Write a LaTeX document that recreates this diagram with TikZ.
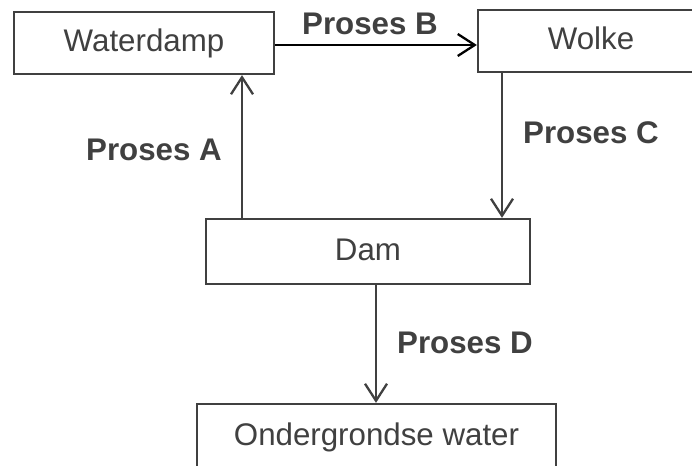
\documentclass[tikz,border=0pt]{standalone}
\usepackage{fontspec}
\setmainfont{Liberation Sans}
\usetikzlibrary{arrows.meta}
\definecolor{ink}{HTML}{404040}
\begin{document}
\begin{tikzpicture}[x=1bp,y=-1bp,
  box/.style={draw=ink, line width=2.3bp, fill=white, inner sep=0pt, text=ink,
    font=\fontsize{31.4}{36}\selectfont, text height=22bp, text depth=4bp},
  lbl/.style={inner sep=0pt, text=ink, font=\fontsize{31.4}{36}\selectfont\bfseries,
    text height=22bp, text depth=0pt},
  arr/.style={draw=ink, line width=2.3bp, -{Straight Barb[length=17bp, width=22bp, line width=2.3bp]}}]
\useasboundingbox (0,0) rectangle (692,466);
\clip (0,0) rectangle (692,466);
\fill[white] (0,0) rectangle (692,466);
\node[box, minimum width=260bp, minimum height=62bp] (wd) at (144,43) {Waterdamp};
\node[box, minimum width=226bp, minimum height=62bp] (wolke) at (591,41) {Wolke};
\node[box, minimum width=324bp, minimum height=65bp] (dam) at (368,251.5) {Dam};
\node[box, minimum width=359bp, minimum height=64bp] (ond) at (376.5,436) {Ondergrondse water};
\coordinate (xa) at (242,0);
\coordinate (yb) at (0,45);
\coordinate (xc) at (502,0);
\coordinate (xd) at (376,0);
\draw[arr] (xa |- dam.north) -- (xa |- wd.south);
\draw[arr, draw=black] (wd.east |- yb) -- (wolke.west |- yb);
\draw[arr] (xc |- wolke.south) -- (xc |- dam.north);
\draw[arr] (xd |- dam.south) -- (xd |- ond.north);
\node[lbl] (la) at (154,150) {Proses A};
\node[lbl] (lb) at (370,24) {Proses B};
\node[lbl] (lc) at (591,133) {Proses C};
\node[lbl] (ld) at (465,342) {Proses D};
\end{tikzpicture}
\end{document}
